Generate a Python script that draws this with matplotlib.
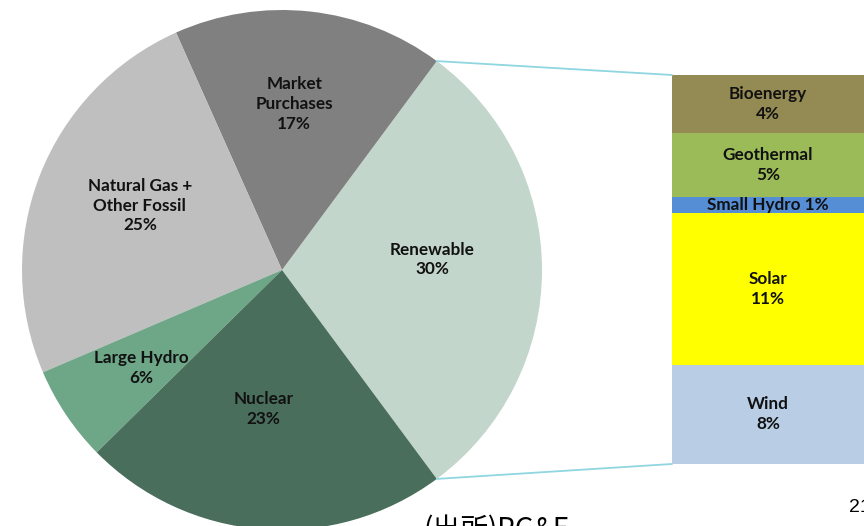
import numpy as np
import matplotlib.pyplot as plt
from matplotlib.patches import ConnectionPatch

# pie data (counter-clockwise from the right)
pie_labels = ['Renewable', 'Market\nPurchases', 'Natural Gas +\nOther Fossil', 'Large Hydro', 'Nuclear']
pie_pct = [30, 17, 25, 6, 23]
pie_colors = ['#c3d6cb', '#808080', '#bfbfbf', '#6ea688', '#4a6e5c']

# renewable breakdown (bottom to top)
ren_labels = ['Wind', 'Solar', 'Small Hydro', 'Geothermal', 'Bioenergy']
ren_pct = [8, 11, 1, 5, 4]
ren_share = [7.4, 11.3, 1.2, 4.8, 4.3]   # bar heights
ren_colors = ['#b9cde5', '#ffff00', '#558ed5', '#9bbb59', '#948a54']

plt.rcParams['font.family'] = ['Lato', 'DejaVu Sans']

fig = plt.figure(figsize=(8.64, 5.26), dpi=100)
ax = fig.add_axes([0, 0, 1, 1])

cx, cy, r = 282, 256, 260
start = -pie_pct[0] / sum(pie_pct) * 360 / 2
wedges, _ = ax.pie(pie_pct, colors=pie_colors, startangle=start, counterclock=True,
                   center=(cx, cy), radius=r, frame=True,
                   wedgeprops=dict(linewidth=0))
ax.set_xlim(0, 864)
ax.set_ylim(0, 526)
ax.axis('off')

lab_dist = [0.58, 0.64, 0.6, 0.66, 0.54]
lab_shift = [4, 2, -3, 1, -3]
for w, lab, p, d, s in zip(wedges, pie_labels, pie_pct, lab_dist, lab_shift):
    mid = np.deg2rad((w.theta1 + w.theta2) / 2 + s)
    ax.text(cx + d * r * np.cos(mid), cy + d * r * np.sin(mid), f'{lab}\n{p}%',
            ha='center', va='center', fontsize=12.3, fontweight='bold',
            linespacing=1.3, color='#111111')

# stacked bar for renewable breakdown
axb = fig.add_axes([672 / 864, 62 / 526, 192 / 864, 389 / 526])
total = sum(ren_share)
bottom = 0
for lab, p, h, c in zip(ren_labels, ren_pct, ren_share, ren_colors):
    axb.bar(0, h, bottom=bottom, width=1, align='edge', color=c, linewidth=0)
    txt = f'{lab} {p}%' if h < 2 else f'{lab}\n{p}%'
    axb.text(0.5, bottom + h / 2, txt, ha='center', va='center', fontsize=12.3,
             fontweight='bold', linespacing=1.3, color='#111111')
    bottom += h
axb.set_xlim(0, 1)
axb.set_ylim(0, total)
axb.axis('off')

# connector lines from the renewable slice to the bar
w0 = wedges[0]
for ang, ybar in [(w0.theta2, total), (w0.theta1, 0)]:
    px = cx + r * np.cos(np.deg2rad(ang))
    py = cy + r * np.sin(np.deg2rad(ang))
    con = ConnectionPatch(xyA=(0, ybar), coordsA=axb.transData,
                          xyB=(px, py), coordsB=ax.transData,
                          color='#8fd6e0', linewidth=1.3)
    fig.add_artist(con)

ax.text(423, 11, '(出所)PG&E', ha='left', va='top', fontsize=20,
        family=['Noto Sans CJK JP', 'DejaVu Sans'])
ax.text(849, 27, '21', ha='left', va='top', fontsize=14, family='Liberation Sans')

fig.savefig('out.png', dpi=100)
